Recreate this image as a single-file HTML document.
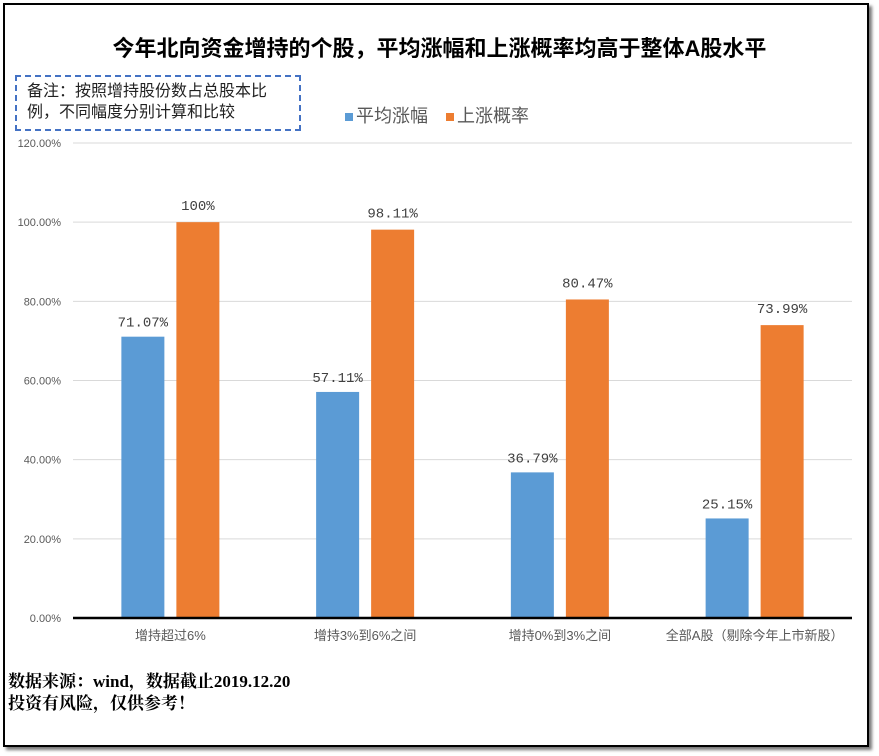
<!DOCTYPE html>
<html><head><meta charset="utf-8"><style>
body{margin:0;background:#fff;width:879px;height:756px;overflow:hidden;font-family:"Liberation Sans","Noto Sans CJK SC",sans-serif}
#frame{position:absolute;left:3px;top:3px;width:862px;height:740px;border:2px solid #000;box-shadow:3px 3px 3px #777;background:#fff}
#title{position:absolute;left:0;width:879px;top:31px;text-align:center;font-size:22px;font-weight:bold;color:#000}
#note{position:absolute;left:15px;top:75px;width:286px;height:56px;border:2px dashed #4472c4;font-size:16px;line-height:21px;padding:4px 0 0 10px;box-sizing:border-box;color:#222}
.leg{position:absolute;top:102px;font-size:18px;color:#595959}
.leg i{display:inline-block;width:8px;height:8px;margin-right:3px;vertical-align:middle}
.foot{position:absolute;left:8px;font-family:"Liberation Serif","Noto Serif CJK SC",serif;font-weight:bold;font-size:17px;color:#000}
</style></head><body>
<div id="frame"></div>
<div id="title">今年北向资金增持的个股，平均涨幅和上涨概率均高于整体A股水平</div>
<div id="note">备注：按照增持股份数占总股本比<br>例，不同幅度分别计算和比较</div>
<div class="leg" style="left:345px"><i style="background:#5b9bd5"></i>平均涨幅</div>
<div class="leg" style="left:446px"><i style="background:#ed7d31"></i>上涨概率</div>
<svg id="chart" width="879" height="756" style="position:absolute;left:0;top:0"></svg>
<div class="foot" style="top:667px">数据来源：wind，数据截止2019.12.20</div>
<div class="foot" style="top:689px">投资有风险，仅供参考！</div>
<script>
const categories=["增持超过6%","增持3%到6%之间","增持0%到3%之间","全部A股（剔除今年上市新股）"];
const avgGain=[71.07,57.11,36.79,25.15];
const upProb=[100,98.11,80.47,73.99];
const avgLabels=["71.07%","57.11%","36.79%","25.15%"];
const probLabels=["100%","98.11%","80.47%","73.99%"];
const yTicks=[0,20,40,60,80,100,120];
const svg=document.getElementById('chart');const NS='http://www.w3.org/2000/svg';
const x0=73,x1=852,y0=618,yTop=143,yMax=120;
const y=v=>y0-(y0-yTop)*v/yMax;
const band=(x1-x0)/categories.length;
function mk(t,a,txt){const e=document.createElementNS(NS,t);for(const k in a)e.setAttribute(k,a[k]);if(txt!==undefined)e.textContent=txt;svg.appendChild(e);return e;}
yTicks.forEach(t=>{
 if(t>0){const g=mk('line',{x1:x0,x2:x1,y1:y(t),y2:y(t),stroke:'#d9d9d9','stroke-width':1});
 
 }
 const l=mk('text',{x:61,y:y(t)+4,'text-anchor':'end','font-size':11,fill:'#595959','font-family':'Liberation Sans, sans-serif'},t.toFixed(2)+'%');
 
 
});
categories.forEach((c,i)=>{
 const cx=x0+band*(i+0.5);const w=43;
 const b=mk('rect',{x:cx-49,y:y(avgGain[i]),width:w,height:y0-y(avgGain[i]),fill:'#5b9bd5'});
 
 
 const o=mk('rect',{x:cx+6,y:y(upProb[i]),width:w,height:y0-y(upProb[i]),fill:'#ed7d31'});
 
 
 const la=mk('text',{x:cx-27.5,y:y(avgGain[i])-10,'text-anchor':'middle','font-size':14,fill:'#404040','font-family':'Liberation Mono, monospace'},avgLabels[i]);
 
 
 const lp=mk('text',{x:cx+27.5,y:y(upProb[i])-12,'text-anchor':'middle','font-size':14,fill:'#404040','font-family':'Liberation Mono, monospace'},probLabels[i]);
 
 
 const xl=mk('text',{x:cx,y:640,'text-anchor':'middle','font-size':13,fill:'#595959','font-family':'Liberation Sans, Noto Sans CJK SC, sans-serif'},c);
 
 
});
const ax=mk('line',{x1:x0,x2:x1,y1:y0,y2:y0,stroke:'#000','stroke-width':2.5});


</script>
</body></html>
